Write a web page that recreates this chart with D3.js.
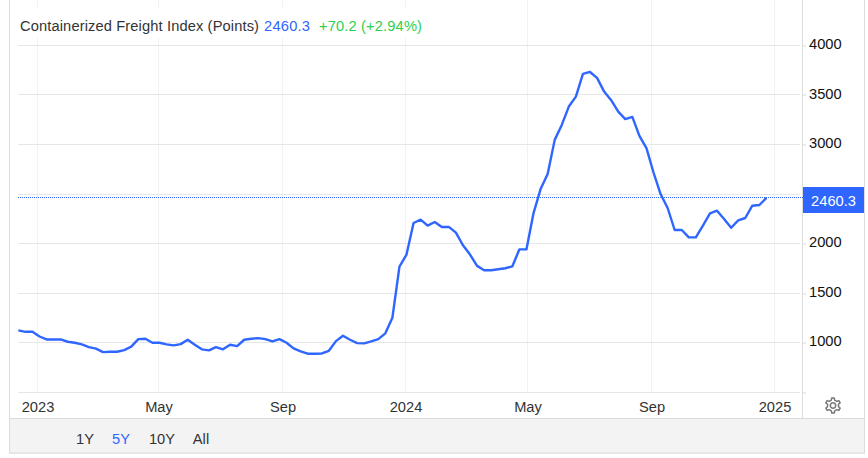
<!DOCTYPE html>
<html><head><meta charset="utf-8">
<script src="https://cdn.jsdelivr.net/npm/d3@7/dist/d3.min.js"></script>
<style>
html,body{margin:0;padding:0;background:#fff}
svg{display:block}
text{font-family:"Liberation Sans",Arial,sans-serif}
</style></head><body>
<svg id="c" width="868" height="458"></svg>
<script>
const firstWeek = "2022-12-13";
const lastWeek = "2024-12-25";
const values = [1124,1110,1110,1063,1033,1033,1033,1010,1000,983,956,940,905,909,909,926,960,1036,1040,1000,
1000,983,973,986,1030,980,933,923,956,933,980,966,1030,1040,1046,1036,1013,1036,1000,943,
913,889,889,892,919,1016,1070,1030,996,993,1013,1036,1095,1252,1768,1889,2208,2241,2181,2218,
2168,2168,2110,1983,1889,1775,1731,1731,1741,1751,1771,1942,1942,2308,2550,2701,3046,3197,3382,3482,
3711,3731,3671,3533,3446,3331,3255,3278,3087,2963,2717,2500,2359,2137,2137,2063,2063,2181,2305,2332,
2248,2160,2234,2258,2382,2389,2460.3];
const yTicks = [500,1000,1500,2000,2500,3000,3500,4000];
const yLabels = [1000,1500,2000,3000,3500,4000];
const xTicks = ["2023-01-01","2023-05-01","2023-09-01","2024-01-01","2024-05-01","2024-09-01","2025-01-01"];
const xLabels = ["2023","May","Sep","2024","May","Sep","2025"];
const rangeButtons = ["1Y","5Y","10Y","All"];
const titleText = "Containerized Freight Index (Points)";
const lastText = "2460.3";
const changeText = "+70.2 (+2.94%)";

const BLUE = "#2f66ff", GRID = "#e6e6e6", VGRID = "#f0f2f5", BORDER = "#dcdcdc";
const svg = d3.select("#c");
const parse = d3.utcParse("%Y-%m-%d");
const dates = d3.utcTuesday.range(parse(firstWeek), parse(lastWeek));
const x = d3.scaleUtc().domain([parse("2023-01-01"), parse("2025-01-01")]).range([37.5, 774.5]);
const y = d3.scaleLinear().domain([500, 4000]).range([392.3, 45.3]);
const snap = v => Math.round(v - 0.5) + 0.5;

// frame and range-selector panel
svg.append("rect").attr("x",9.5).attr("y",-2).attr("width",855).attr("height",455)
  .attr("fill","#fff").attr("stroke",BORDER);
svg.append("rect").attr("x",9.5).attr("y",418.5).attr("width",855).attr("height",34.5)
  .attr("fill","#f3f3f3").attr("stroke",BORDER);

// vertical grid
svg.append("g").selectAll("line").data(xTicks).join("line")
  .attr("x1",d=>snap(x(parse(d)))).attr("x2",d=>snap(x(parse(d))))
  .attr("y1",0).attr("y2",392).attr("stroke",VGRID);
// horizontal grid
svg.append("g").selectAll("line").data(yTicks).join("line")
  .attr("x1",18).attr("x2",800)
  .attr("y1",d=>snap(y(d))).attr("y2",d=>snap(y(d)))
  .attr("stroke",GRID);

// title with white plate
svg.append("rect").attr("x",18).attr("y",9).attr("width",410).attr("height",29).attr("fill","#fff");
svg.append("text").attr("x",20).attr("y",31).attr("font-size",14.67).attr("fill","#333")
  .attr("textLength",239).attr("lengthAdjust","spacing").text(titleText);
svg.append("text").attr("x",264).attr("y",31).attr("font-size",14.67).attr("fill",BLUE)
  .attr("textLength",46).attr("lengthAdjust","spacing").text(lastText);
svg.append("text").attr("x",319).attr("y",31).attr("font-size",14.67).attr("fill","#2ed14b")
  .attr("textLength",103).attr("lengthAdjust","spacing").text(changeText);

// right axis line
svg.append("line").attr("x1",802.5).attr("x2",802.5).attr("y1",0).attr("y2",418).attr("stroke",BORDER);

// y axis
const yAxis = d3.axisRight(y).tickValues(yTicks).tickSize(4).tickPadding(3).tickFormat(d=>yLabels.includes(d)?d:"");
const gy = svg.append("g").attr("transform","translate(802,0)").call(yAxis);
gy.select(".domain").remove();
gy.selectAll(".tick line").attr("stroke",BORDER).attr("transform",d=>`translate(0,${snap(y(d))-y(d)})`);
gy.selectAll(".tick text").attr("font-size",14.67).attr("fill","#111").attr("x",7).attr("dy","0.22em")
  .attr("font-family",'"Liberation Sans",Arial,sans-serif');

// x axis
const xAxis = d3.axisBottom(x).tickValues(xTicks.map(parse)).tickSize(0).tickFormat((d,i)=>xLabels[i]);
const gx = svg.append("g").attr("transform","translate(0,392)").call(xAxis);
gx.select(".domain").remove();
gx.selectAll(".tick text").attr("font-size",14.67).attr("fill","#333").attr("y",20).attr("dy",0)
  .attr("font-family",'"Liberation Sans",Arial,sans-serif');

// last value line
svg.append("line").attr("x1",18).attr("x2",803).attr("y1",197.5).attr("y2",197.5)
  .attr("stroke",BLUE).attr("stroke-dasharray","1,1");

// series
const line = d3.line().x((d,i)=>x(dates[i])).y(d=>y(d));
svg.append("path").datum(values).attr("d",line).attr("fill","none")
  .attr("stroke",BLUE).attr("stroke-width",2.4).attr("stroke-linejoin","round");

// last value tag
svg.append("rect").attr("x",803).attr("y",187).attr("width",61).attr("height",26).attr("fill",BLUE);
svg.append("text").attr("x",833.5).attr("y",205.5).attr("text-anchor","middle")
  .attr("font-size",14.67).attr("fill","#fff").text(lastText);

// range buttons
const btnX = [85,121,162,201];
svg.append("g").selectAll("text").data(rangeButtons).join("text")
  .attr("x",(d,i)=>btnX[i]).attr("y",444).attr("text-anchor","middle").attr("font-size",14.67)
  .attr("fill",d=>d==="5Y"?BLUE:"#333").text(d=>d);

// gear icon: six teeth, pointing up and down
const gear = svg.append("g").attr("transform","translate(833,405.5)");
const teeth = d3.range(6).flatMap(i=>{
  const a = i/6*2*Math.PI - Math.PI/2;
  return [[-0.3,5.6],[-0.17,7.6],[0.17,7.6],[0.3,5.6]].map(([o,r])=>[r*Math.cos(a+o), r*Math.sin(a+o)]);
});
gear.append("path").attr("d",d3.line().curve(d3.curveLinearClosed)(teeth))
  .attr("fill","none").attr("stroke","#777").attr("stroke-width",1.5).attr("stroke-linejoin","round");
gear.append("circle").attr("r",2.7).attr("fill","none").attr("stroke","#777").attr("stroke-width",1.5);
</script>
</body></html>
